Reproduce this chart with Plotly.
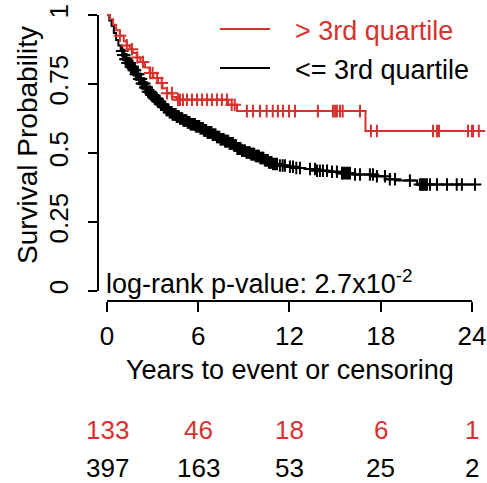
import numpy as np
import plotly.graph_objects as go

# ---------------- data ----------------
groups = ["> 3rd quartile", "<= 3rd quartile"]
colors = ["#D8322F", "#000000"]

# Kaplan-Meier step points (time in years, survival after step)
red_t = [0, 0.2, 0.4, 0.6, 0.85, 1.1, 1.3, 1.5, 1.7, 1.95, 2.2, 2.5, 2.8, 3.05,
         3.35, 3.65, 3.95, 4.3, 4.6, 7.96, 8.55, 17.0, 24.45]
red_s = [1.0, 0.985, 0.965, 0.945, 0.925, 0.905, 0.89, 0.876, 0.862, 0.846, 0.83,
         0.81, 0.79, 0.772, 0.754, 0.735, 0.717, 0.703, 0.693, 0.675, 0.652, 0.58, 0.58]

black_t = [0, 0.15, 0.3, 0.45, 0.6, 0.75, 0.9, 1.05, 1.2, 1.35, 1.5, 1.7, 1.9, 2.1,
           2.3, 2.5, 2.7, 2.9, 3.1, 3.3, 3.5, 3.7, 3.9, 4.1, 4.3, 4.55, 4.8, 5.0,
           5.25, 5.5, 5.8, 6.1, 6.35, 6.6, 6.9, 7.2, 7.45, 7.7, 8.0, 8.3, 8.55, 8.8,
           9.1, 9.4, 9.7, 10.0, 10.3, 10.6, 10.9, 11.3, 11.8, 12.3, 13.0, 13.8,
           14.5, 15.3, 16.2, 17.5, 18.3, 19.0, 20.4, 24.3]
black_s = [1.0, 0.98, 0.96, 0.935, 0.91, 0.89, 0.87, 0.855, 0.84, 0.826, 0.813, 0.8,
           0.785, 0.768, 0.752, 0.737, 0.722, 0.71, 0.698, 0.687, 0.676, 0.666, 0.656,
           0.648, 0.64, 0.632, 0.625, 0.618, 0.611, 0.604, 0.597, 0.59, 0.582, 0.575,
           0.566, 0.558, 0.55, 0.543, 0.535, 0.527, 0.516, 0.508, 0.502, 0.496, 0.489,
           0.482, 0.474, 0.466, 0.46, 0.455, 0.45, 0.446, 0.442, 0.436, 0.432, 0.427,
           0.422, 0.416, 0.405, 0.4, 0.386, 0.386]

# censoring times
red_cens = [0.85, 1.3, 1.64, 2.0, 2.37, 2.83, 3.0, 3.3, 3.6, 3.95, 4.27, 4.67, 4.8,
            5.0, 5.26, 5.59, 5.92, 6.25, 6.58, 6.9, 7.23, 7.56, 7.89, 8.2, 8.4, 9.2,
            9.6, 10.06, 10.5, 10.9, 11.24, 11.57, 11.97, 12.36, 13.87, 14.86, 15.0,
            15.12, 15.32, 15.5, 16.64, 17.36, 17.75, 21.44, 21.7, 21.83, 23.74, 24.0,
            24.07, 24.45]
black_cens = [1.0, 1.07, 1.13, 1.21, 1.28, 1.35, 1.41, 1.49, 1.57, 1.63, 1.69, 1.77,
              1.84, 1.9, 1.96, 2.05, 2.12, 2.18, 2.23, 2.3, 2.37, 2.45, 2.52, 2.57,
              2.61, 2.7, 2.79, 2.85, 2.92, 2.98, 3.04, 3.13, 3.21, 3.27, 3.34, 3.41,
              3.47, 3.55, 3.62, 3.68, 3.74, 3.83, 3.91, 3.97, 4.04, 4.12, 4.19, 4.25,
              4.31, 4.39, 4.46, 4.52, 4.58, 4.66, 4.73, 4.8, 4.87, 4.95, 5.02, 5.08,
              5.14, 5.23, 5.31, 5.37, 5.43, 5.5, 5.57, 5.65, 5.72, 5.78, 5.84, 5.93,
              6.01, 6.07, 6.14, 6.23, 6.31, 6.38, 6.44, 6.52, 6.61, 6.67, 6.73, 6.8,
              6.87, 6.95, 7.02, 7.08, 7.14, 7.23, 7.31, 7.39, 7.46, 7.52, 7.58, 7.67,
              7.76, 7.82, 7.89, 7.97, 8.06, 8.12, 8.19, 8.28, 8.36, 8.43, 8.49, 8.57,
              8.66, 8.72, 8.79, 8.88, 8.96, 9.02, 9.08, 9.17, 9.26, 9.33, 9.39, 9.48,
              9.56, 9.62, 9.68, 9.77, 9.86, 9.93, 9.99, 10.08, 10.16, 10.22, 10.29,
              10.38, 10.46, 10.52, 10.58, 10.65, 10.72, 10.82, 10.92, 11.05, 11.18,
              11.37, 11.55, 11.7, 12.03, 12.23, 12.45, 12.69, 13.35, 13.68, 13.81, 14.0,
              14.2, 14.47, 14.8, 15.12, 15.45, 15.52, 15.65, 15.78, 15.85, 15.98, 16.31,
              16.64, 17.29, 17.49, 17.75, 18.28, 18.6, 18.94, 19.92, 20.58, 20.71, 20.78,
              20.91, 21.04, 21.24, 21.7, 22.36, 23.0, 23.34, 24.2]

x_ticks = [0, 6, 12, 18, 24]
y_ticks = [0, 0.25, 0.5, 0.75, 1]
y_ticktext = ["0", "0.25", "0.5", "0.75", "1"]

risk_red = [133, 46, 18, 6, 1]
risk_black = [397, 163, 53, 25, 2]

pvalue_text = "log-rank p-value: 2.7x10<sup>-2</sup>"
x_title = "Years to event or censoring"
y_title = "Survival Probability"

FONT = "Liberation Sans, Arial, Helvetica, sans-serif"

# layout geometry (pixels)
W, H = 487, 483
L, T, B = 98, 4, 182
PW, PH = W - L, H - T - B


def px(x):
    return (x - L) / PW


def py(y):
    return (H - B - y) / PH


# ---------------- figure ----------------
fig = go.Figure()


def cens_y(t_steps, s_steps, cens):
    idx = np.searchsorted(np.asarray(t_steps), np.asarray(cens), side="right") - 1
    return np.asarray(s_steps)[idx]


for t, s, c, col in [(black_t, black_s, black_cens, colors[1]),
                     (red_t, red_s, red_cens, colors[0])]:
    fig.add_trace(go.Scatter(x=t, y=s, mode="lines", line=dict(color=col, width=2, shape="hv"),
                             showlegend=False, hoverinfo="skip"))
    fig.add_trace(go.Scatter(x=c, y=cens_y(t, s, c), mode="markers",
                             marker=dict(symbol="cross-thin", size=9,
                                         line=dict(color=col, width=2)),
                             showlegend=False, hoverinfo="skip"))

# axis lines spanning only the tick range (R style)
fig.add_shape(type="line", xref="paper", yref="y", x0=0, x1=0, y0=0, y1=1,
              line=dict(color="black", width=2))
fig.add_shape(type="line", xref="x", yref="paper", x0=0, x1=24, y0=0, y1=0,
              line=dict(color="black", width=2))

# legend
for name, col, yy in zip(groups, colors, [29, 68]):
    fig.add_shape(type="line", xref="paper", yref="paper", x0=px(220), x1=px(270),
                  y0=py(yy), y1=py(yy), line=dict(color=col, width=2))
    fig.add_annotation(text=name, xref="paper", yref="paper", x=px(293), y=py(yy + 2),
                       xanchor="left", yanchor="middle", showarrow=False,
                       font=dict(family=FONT, size=27, color=col))

# p-value
fig.add_annotation(text=pvalue_text, xref="paper", yref="paper", x=px(104), y=py(301),
                   xanchor="left", yanchor="bottom", showarrow=False,
                   font=dict(family=FONT, size=27, color="black"))

# axis titles
fig.add_annotation(text=x_title, xref="paper", yref="paper", x=px(290), y=py(370),
                   xanchor="center", yanchor="middle",
                   showarrow=False, font=dict(family=FONT, size=27, color="black"))
fig.add_annotation(text=y_title, xref="paper", yref="paper", x=px(28), y=py(145),
                   xanchor="center", yanchor="middle", textangle=-90, showarrow=False,
                   font=dict(family=FONT, size=28, color="black"))

# numbers at risk
for vals, col, yy in [(risk_red, colors[0], 430), (risk_black, colors[1], 468)]:
    for xv, v in zip(x_ticks, vals):
        fig.add_annotation(text=str(v), xref="x", yref="paper", x=xv, y=py(yy),
                           xanchor="center", yanchor="middle", showarrow=False,
                           font=dict(family=FONT, size=26, color=col))

fig.update_layout(
    width=W, height=H,
    margin=dict(l=L, r=0, t=T, b=B),
    paper_bgcolor="white", plot_bgcolor="white",
    font=dict(family=FONT, size=26, color="black"),
    xaxis=dict(range=[-0.592, 24.99], tickvals=x_ticks, ticks="outside", ticklen=10,
               tickwidth=2, tickcolor="black", showgrid=False, zeroline=False,
               showline=False, tickfont=dict(size=26), ticklabelstandoff=2),
    yaxis=dict(range=[-0.0362, 1.04], tickvals=y_ticks, ticktext=y_ticktext,
               ticks="outside", ticklen=9, tickwidth=2, tickcolor="black",
               showgrid=False, zeroline=False, showline=False, tickangle=-90,
               tickfont=dict(size=26), ticklabelstandoff=10),
)

fig.write_html("out.html")
